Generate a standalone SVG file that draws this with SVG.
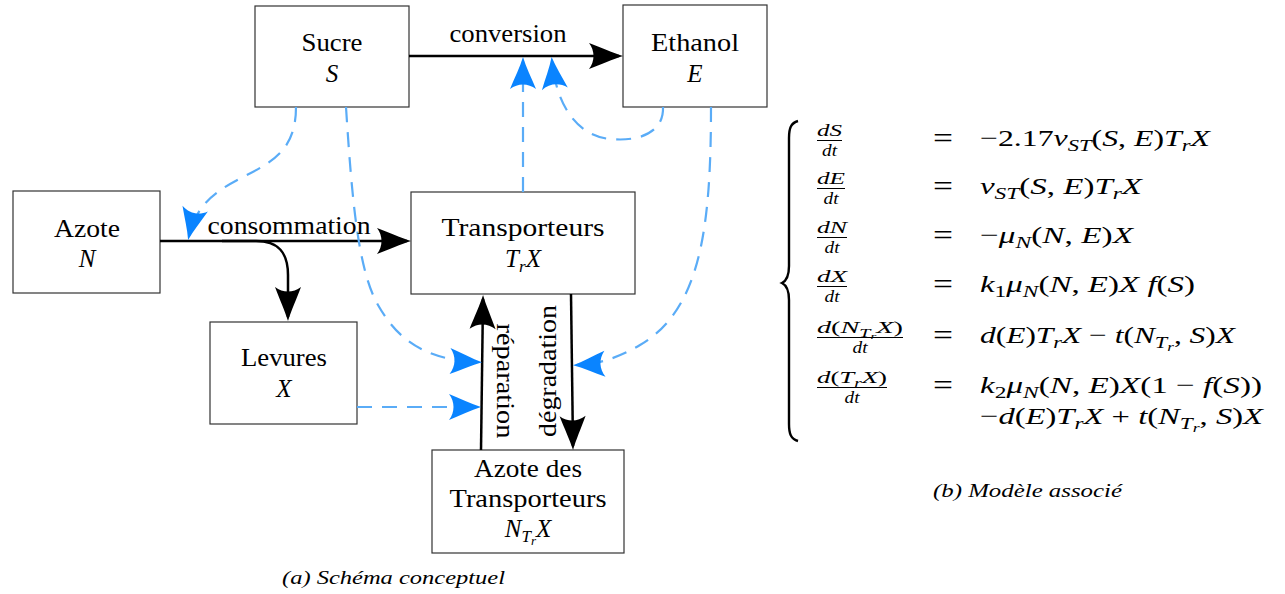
<svg xmlns="http://www.w3.org/2000/svg" width="1285" height="594" viewBox="0 0 1285 594">
  <style>
    text { font-family: "Liberation Serif", "Times New Roman", serif; fill: #000; }
    .lbl { font-size: 25px; text-anchor: middle; }
    .i { font-style: italic; }
    .s { font-size: 17px; }
    .ss { font-size: 13px; }
    .box { fill: #fff; stroke: #333; stroke-width: 1.2; }
    .solid { fill: none; stroke: #000; stroke-width: 2.5; marker-end: url(#tipK); }
    .dash { fill: none; stroke: #5aacf7; stroke-width: 2.2; stroke-dasharray: 15 10; marker-end: url(#tipB); }
    .eq { font-size: 24px; }
    .eqs { font-size: 30px; text-anchor: middle; }
    .fr { font-size: 17px; text-anchor: middle; }
    .bar { stroke: #000; stroke-width: 1; }
    .cap { font-size: 18px; font-style: italic; }
  </style>
  <defs>
    <marker id="tipK" viewBox="-36 -15 38 30" markerWidth="38" markerHeight="30" refX="-4" refY="0" orient="auto" markerUnits="userSpaceOnUse">
      <path d="M0 0 C-10 -3 -22 -8.5 -34 -13 C-28 -5 -28 5 -34 13 C-22 8.5 -10 3 0 0 Z" fill="#000"/>
    </marker>
    <marker id="tipB" viewBox="-36 -15 38 30" markerWidth="38" markerHeight="30" refX="-4" refY="0" orient="auto" markerUnits="userSpaceOnUse">
      <path d="M0 0 C-10 -3 -21 -8.5 -32 -13 C-26 -5 -26 5 -32 13 C-21 8.5 -10 3 0 0 Z" fill="#0a84ff"/>
    </marker>
  </defs>

  <!-- nodes -->
  <g id="sucre">
    <rect class="box" x="255" y="6" width="154" height="101"/>
    <text class="lbl" x="332" y="51" textLength="61" lengthAdjust="spacingAndGlyphs">Sucre</text>
    <text class="lbl i" x="332" y="82">S</text>
  </g>
  <g id="ethanol">
    <rect class="box" x="623" y="5" width="144" height="102"/>
    <text class="lbl" x="695" y="51" textLength="88" lengthAdjust="spacingAndGlyphs">Ethanol</text>
    <text class="lbl i" x="695" y="82">E</text>
  </g>
  <g id="azote">
    <rect class="box" x="13" y="191" width="147" height="102"/>
    <text class="lbl" x="87" y="237" textLength="66" lengthAdjust="spacingAndGlyphs">Azote</text>
    <text class="lbl i" x="87" y="267">N</text>
  </g>
  <g id="transporteurs">
    <rect class="box" x="411" y="192" width="224" height="102"/>
    <text class="lbl" x="523" y="236" textLength="163" lengthAdjust="spacingAndGlyphs">Transporteurs</text>
    <text class="lbl i" x="523" y="267">T<tspan class="s" dy="5">r</tspan><tspan dy="-5">X</tspan></text>
  </g>
  <g id="levures">
    <rect class="box" x="210" y="322" width="147" height="102"/>
    <text class="lbl" x="284" y="366" textLength="86" lengthAdjust="spacingAndGlyphs">Levures</text>
    <text class="lbl i" x="284" y="397">X</text>
  </g>
  <g id="azote-transporteurs">
    <rect class="box" x="432" y="450" width="192" height="103"/>
    <text class="lbl" x="528" y="477" textLength="108" lengthAdjust="spacingAndGlyphs">Azote des</text>
    <text class="lbl" x="528" y="507" textLength="157" lengthAdjust="spacingAndGlyphs">Transporteurs</text>
    <text class="lbl i" x="528" y="537">N<tspan class="s" dy="5">T</tspan><tspan class="ss" dy="3">r</tspan><tspan dy="-8">X</tspan></text>
  </g>

  <!-- connectors -->
  <g id="connectors">
    <path class="solid" d="M409 56 L619 56"/>
    <path class="solid" d="M160 241 L407 241"/>
    <path class="solid" d="M222 241 L256 241 C278 241 288 252 288 275 L288 317"/>
    <path class="solid" d="M481 450 L483 299"/>
    <path class="solid" d="M571 294 L573 446"/>

    <path class="dash" d="M296 107 C296 150 272 162 245 176 C215 191 196 205 189 236"/>
    <path class="dash" d="M346 107 C352 200 358 270 378 305 C395 335 420 360 478 362"/>
    <path class="dash" d="M357 407 L477 407"/>
    <path class="dash" d="M523 192 L523 61"/>
    <path class="dash" d="M663 107 C664 132 640 142 610 139 C580 136 557 110 552 61"/>
    <path class="dash" d="M711 107 C711 230 700 310 640 345 C620 357 600 364 577 365"/>

    <text class="lbl" x="508" y="42" textLength="117" lengthAdjust="spacingAndGlyphs">conversion</text>
    <text class="lbl" x="289" y="234" textLength="163" lengthAdjust="spacingAndGlyphs">consommation</text>
    <text class="lbl" transform="translate(497 381) rotate(90)" textLength="115" lengthAdjust="spacingAndGlyphs">réparation</text>
    <text class="lbl" transform="translate(556 371) rotate(-90)" textLength="132" lengthAdjust="spacingAndGlyphs">dégradation</text>
  </g>

  <text class="cap" x="282" y="584" textLength="223" lengthAdjust="spacingAndGlyphs">(a) Schéma conceptuel</text>

  <!-- system of equations -->
  <g id="model">
    <path d="M798 121 C791 123 789 128 789 138 L789 266 C789 276 786 281 782 283 C786 285 789 290 789 300 L789 424 C789 434 791 439 798 441" fill="none" stroke="#000" stroke-width="2.4"/>

    <!-- left-hand sides -->
    <text class="fr i" x="829.5" y="136" textLength="25" lengthAdjust="spacingAndGlyphs">dS</text>
    <line class="bar" x1="817" y1="140.5" x2="842" y2="140.5"/>
    <text class="fr i" x="829.5" y="156" textLength="15" lengthAdjust="spacingAndGlyphs">dt</text>

    <text class="fr i" x="831" y="184" textLength="28" lengthAdjust="spacingAndGlyphs">dE</text>
    <line class="bar" x1="817" y1="188.5" x2="845" y2="188.5"/>
    <text class="fr i" x="831" y="204" textLength="15" lengthAdjust="spacingAndGlyphs">dt</text>

    <text class="fr i" x="832" y="233" textLength="30" lengthAdjust="spacingAndGlyphs">dN</text>
    <line class="bar" x1="817" y1="237.5" x2="847" y2="237.5"/>
    <text class="fr i" x="832" y="253" textLength="15" lengthAdjust="spacingAndGlyphs">dt</text>

    <text class="fr i" x="832" y="282" textLength="30" lengthAdjust="spacingAndGlyphs">dX</text>
    <line class="bar" x1="817" y1="286.5" x2="847" y2="286.5"/>
    <text class="fr i" x="832" y="302" textLength="15" lengthAdjust="spacingAndGlyphs">dt</text>

    <text class="fr" x="860" y="333" textLength="86" lengthAdjust="spacingAndGlyphs"><tspan class="i">d</tspan>(<tspan class="i">N</tspan><tspan class="i" font-size="12" dy="4">T</tspan><tspan class="i" font-size="9" dy="2">r</tspan><tspan class="i" dy="-6">X</tspan>)</text>
    <line class="bar" x1="817" y1="337.5" x2="903" y2="337.5"/>
    <text class="fr i" x="860" y="353" textLength="15" lengthAdjust="spacingAndGlyphs">dt</text>

    <text class="fr" x="852" y="383" textLength="70" lengthAdjust="spacingAndGlyphs"><tspan class="i">d</tspan>(<tspan class="i">T</tspan><tspan class="i" font-size="12" dy="4">r</tspan><tspan class="i" dy="-4">X</tspan>)</text>
    <line class="bar" x1="817" y1="387.5" x2="887" y2="387.5"/>
    <text class="fr i" x="852" y="403" textLength="15" lengthAdjust="spacingAndGlyphs">dt</text>

    <!-- equal signs -->
    <text class="eqs" x="943" y="148" textLength="20" lengthAdjust="spacingAndGlyphs">=</text>
    <text class="eqs" x="943" y="196" textLength="20" lengthAdjust="spacingAndGlyphs">=</text>
    <text class="eqs" x="943" y="245" textLength="20" lengthAdjust="spacingAndGlyphs">=</text>
    <text class="eqs" x="943" y="294" textLength="20" lengthAdjust="spacingAndGlyphs">=</text>
    <text class="eqs" x="943" y="345" textLength="20" lengthAdjust="spacingAndGlyphs">=</text>
    <text class="eqs" x="943" y="395" textLength="20" lengthAdjust="spacingAndGlyphs">=</text>

    <!-- right-hand sides -->
    <text class="eq" x="980" y="146" textLength="230" lengthAdjust="spacingAndGlyphs">−2.17<tspan class="i">ν</tspan><tspan class="i s" dy="5">ST</tspan><tspan dy="-5">(</tspan><tspan class="i">S</tspan>, <tspan class="i">E</tspan>)<tspan class="i">T</tspan><tspan class="i s" dy="5">r</tspan><tspan class="i" dy="-5">X</tspan></text>
    <text class="eq" x="980" y="194" textLength="162" lengthAdjust="spacingAndGlyphs"><tspan class="i">ν</tspan><tspan class="i s" dy="5">ST</tspan><tspan dy="-5">(</tspan><tspan class="i">S</tspan>, <tspan class="i">E</tspan>)<tspan class="i">T</tspan><tspan class="i s" dy="5">r</tspan><tspan class="i" dy="-5">X</tspan></text>
    <text class="eq" x="980" y="243" textLength="153" lengthAdjust="spacingAndGlyphs">−<tspan class="i">μ</tspan><tspan class="i s" dy="5">N</tspan><tspan dy="-5">(</tspan><tspan class="i">N</tspan>, <tspan class="i">E</tspan>)<tspan class="i">X</tspan></text>
    <text class="eq" x="980" y="292" textLength="215" lengthAdjust="spacingAndGlyphs"><tspan class="i">k</tspan><tspan class="s" dy="5">1</tspan><tspan class="i" dy="-5">μ</tspan><tspan class="i s" dy="5">N</tspan><tspan dy="-5">(</tspan><tspan class="i">N</tspan>, <tspan class="i">E</tspan>)<tspan class="i">X f</tspan>(<tspan class="i">S</tspan>)</text>
    <text class="eq" x="980" y="343" textLength="255" lengthAdjust="spacingAndGlyphs"><tspan class="i">d</tspan>(<tspan class="i">E</tspan>)<tspan class="i">T</tspan><tspan class="i s" dy="5">r</tspan><tspan class="i" dy="-5">X</tspan> − <tspan class="i">t</tspan>(<tspan class="i">N</tspan><tspan class="i s" dy="5">T</tspan><tspan class="i ss" dy="3">r</tspan><tspan dy="-8">, </tspan><tspan class="i">S</tspan>)<tspan class="i">X</tspan></text>
    <text class="eq" x="980" y="393" textLength="282" lengthAdjust="spacingAndGlyphs"><tspan class="i">k</tspan><tspan class="s" dy="5">2</tspan><tspan class="i" dy="-5">μ</tspan><tspan class="i s" dy="5">N</tspan><tspan dy="-5">(</tspan><tspan class="i">N</tspan>, <tspan class="i">E</tspan>)<tspan class="i">X</tspan>(1 − <tspan class="i">f</tspan>(<tspan class="i">S</tspan>))</text>
    <text class="eq" x="980" y="424" textLength="283" lengthAdjust="spacingAndGlyphs">−<tspan class="i">d</tspan>(<tspan class="i">E</tspan>)<tspan class="i">T</tspan><tspan class="i s" dy="5">r</tspan><tspan class="i" dy="-5">X</tspan> + <tspan class="i">t</tspan>(<tspan class="i">N</tspan><tspan class="i s" dy="5">T</tspan><tspan class="i ss" dy="3">r</tspan><tspan dy="-8">, </tspan><tspan class="i">S</tspan>)<tspan class="i">X</tspan></text>
  </g>

  <text class="cap" x="933" y="497" textLength="189" lengthAdjust="spacingAndGlyphs">(b) Modèle associé</text>
</svg>
